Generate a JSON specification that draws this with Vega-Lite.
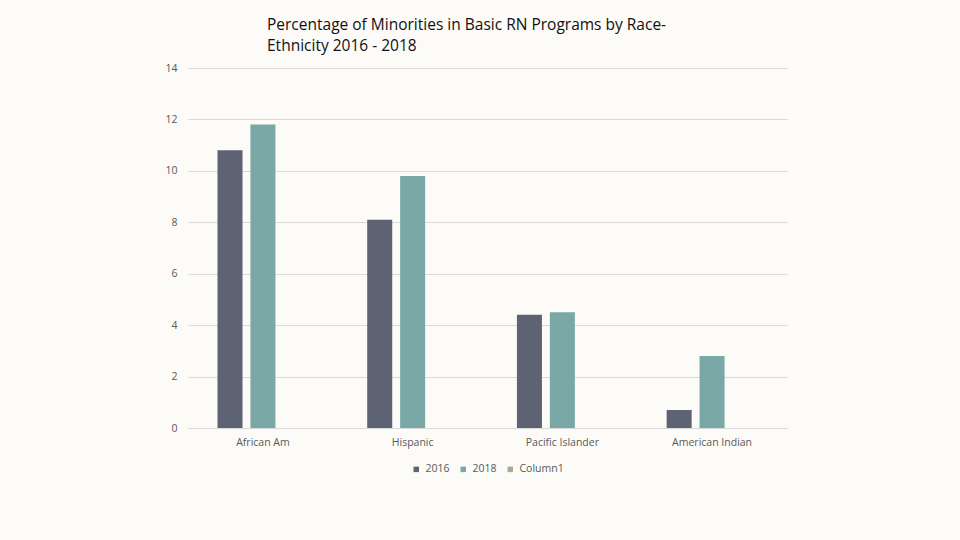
{
  "$schema": "https://vega.github.io/schema/vega-lite/v6.json",
  "autosize": "none",
  "width": 599,
  "height": 360,
  "padding": {"left": 188, "top": 68, "right": 173, "bottom": 112},
  "background": "#fcfbf7",
  "title": {
    "text": ["Percentage of Minorities in Basic RN Programs by Race-", "Ethnicity 2016 - 2018"],
    "anchor": "start",
    "frame": "group",
    "dx": 79,
    "offset": 9,
    "font": "Open Sans",
    "fontSize": 15.5,
    "fontWeight": "normal",
    "color": "#111111",
    "lineHeight": 21
  },
  "data": {
    "values": [
      {"group": "African Am", "series": "2016", "value": 10.8},
      {"group": "African Am", "series": "2018", "value": 11.8},
      {"group": "Hispanic", "series": "2016", "value": 8.1},
      {"group": "Hispanic", "series": "2018", "value": 9.8},
      {"group": "Pacific Islander", "series": "2016", "value": 4.4},
      {"group": "Pacific Islander", "series": "2018", "value": 4.5},
      {"group": "American Indian", "series": "2016", "value": 0.7},
      {"group": "American Indian", "series": "2018", "value": 2.8}
    ]
  },
  "mark": {"type": "bar"},
  "encoding": {
    "x": {
      "field": "group",
      "type": "nominal",
      "sort": ["African Am", "Hispanic", "Pacific Islander", "American Indian"],
      "scale": {"paddingInner": 0.393, "paddingOuter": 0.197},
      "axis": {
        "title": null,
        "labelAngle": 0,
        "ticks": false,
        "domainColor": "#d9d9d9",
        "labelColor": "#595959",
        "labelFont": "Open Sans",
        "labelFontSize": 10.5,
        "labelPadding": 9
      }
    },
    "xOffset": {
      "field": "series",
      "type": "nominal",
      "scale": {"domain": ["2016", "2018", "Column1"], "paddingInner": 0.24, "paddingOuter": 0}
    },
    "y": {
      "field": "value",
      "type": "quantitative",
      "scale": {"domain": [0, 14]},
      "axis": {
        "title": null,
        "values": [0, 2, 4, 6, 8, 10, 12, 14],
        "domain": false,
        "ticks": false,
        "gridColor": "#d9d9d9",
        "labelColor": "#595959",
        "labelFont": "Open Sans",
        "labelFontSize": 10.5,
        "labelPadding": 11
      }
    },
    "color": {
      "field": "series",
      "type": "nominal",
      "scale": {"domain": ["2016", "2018", "Column1"], "range": ["#5e6373", "#7aa8a6", "#a9a994"]},
      "legend": {
        "title": null,
        "orient": "bottom",
        "direction": "horizontal",
        "symbolType": "square",
        "symbolSize": 30,
        "symbolStrokeWidth": 0,
        "labelColor": "#595959",
        "labelFont": "Open Sans",
        "labelFontSize": 10.5,
        "columnPadding": 8,
        "offset": 16
      }
    }
  },
  "config": {
    "view": {"stroke": null},
    "legend": {"layout": {"bottom": {"anchor": "middle"}}}
  }
}
